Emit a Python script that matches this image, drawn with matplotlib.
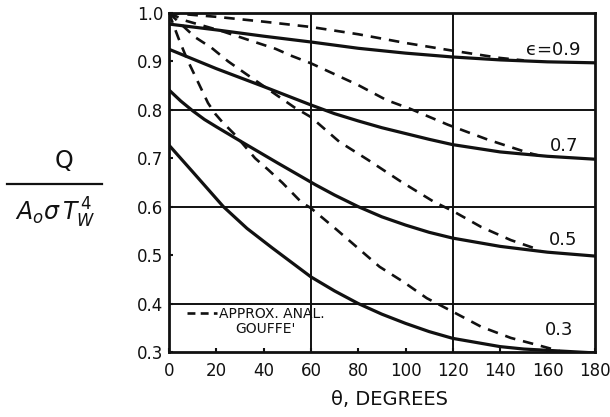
import numpy as np
import matplotlib
matplotlib.use("Agg")
import matplotlib.pyplot as plt
from matplotlib.lines import Line2D

# ---------------------------------------------------------------
# Data (theta in degrees, Q / (A0 sigma Tw^4))
# ---------------------------------------------------------------
# exact (solid) curves
th_s09 = [0, 20, 40, 60, 80, 100, 120, 140, 160, 180]
q_s09 = [0.977, 0.965, 0.952, 0.940, 0.927, 0.917, 0.909, 0.903, 0.899, 0.897]

th_s07 = [0, 20, 40, 60, 70, 80, 90, 100, 110, 120, 140, 160, 180]
q_s07 = [0.925, 0.885, 0.848, 0.810, 0.792, 0.777, 0.763, 0.751, 0.739, 0.728, 0.713, 0.704, 0.698]

th_s05 = [0, 5, 10, 15, 20, 31, 46, 62, 70, 80, 90, 100, 110, 120, 140, 160, 180]
q_s05 = [0.841, 0.818, 0.798, 0.780, 0.765, 0.733, 0.690, 0.645, 0.624, 0.600, 0.579, 0.562, 0.547, 0.535,
         0.518, 0.506, 0.498]

th_s03 = [0, 10, 23, 33, 43.6, 60, 70, 80, 90, 100, 110, 120, 140, 150, 180]
q_s03 = [0.727, 0.672, 0.600, 0.555, 0.515, 0.455, 0.426, 0.400, 0.378, 0.359, 0.342, 0.328, 0.311, 0.306, 0.298]

# approximate analytical (dashed) curves, Gouffe
th_d09 = [0, 20, 40, 60, 80, 100, 120, 140, 150]
q_d09 = [1.0, 0.992, 0.982, 0.971, 0.956, 0.938, 0.922, 0.907, 0.902]

th_d07 = [0, 7, 22, 35, 45, 52, 60, 80, 92, 102, 118, 135, 152, 156]
q_d07 = [1.0, 0.984, 0.963, 0.942, 0.926, 0.911, 0.896, 0.851, 0.820, 0.802, 0.769, 0.738, 0.711, 0.706]

th_d05 = [0, 11, 18, 25, 32, 53, 60, 72, 84, 98, 112, 120, 132, 144.5, 157]
q_d05 = [1.0, 0.950, 0.928, 0.900, 0.876, 0.805, 0.785, 0.734, 0.697, 0.652, 0.610, 0.591, 0.558, 0.531, 0.510]

th_d03 = [0, 4, 7.6, 12.3, 16.5, 19.5, 22.5, 28, 36.4, 42, 48, 56, 60, 71, 89, 99, 109, 120, 132, 144.5, 156, 165]
q_d03 = [1.0, 0.948, 0.905, 0.857, 0.814, 0.792, 0.775, 0.748, 0.700, 0.676, 0.649, 0.609, 0.597,
         0.552, 0.476, 0.445, 0.411, 0.383, 0.352, 0.329, 0.314, 0.302]

eps_labels = ["\u03f5=0.9", "0.7", "0.5", "0.3"]
label_th = [162.5, 167, 166.5, 165]
label_q = [0.924, 0.725, 0.531, 0.345]

x_ticks = np.arange(0, 181, 20)
y_ticks = [0.3, 0.4, 0.5, 0.6, 0.7, 0.8, 0.9, 1.0]

# ---------------------------------------------------------------
# Plot
# ---------------------------------------------------------------
plt.rcParams['font.family'] = ['DejaVu Sans']

fig = plt.figure(figsize=(6.1, 4.17), dpi=100)
ax = fig.add_axes([0.277, 0.156, 0.698, 0.813])

ink = "#111111"

# grid lines (only the heavy ones drawn on the original)
for gx in [60, 120]:
    ax.axvline(gx, color=ink, lw=1.4, zorder=1)
for gy in [0.4, 0.6, 0.8]:
    ax.axhline(gy, color=ink, lw=1.4, zorder=1)

solids = [(th_s09, q_s09), (th_s07, q_s07), (th_s05, q_s05), (th_s03, q_s03)]
dashes = [(th_d09, q_d09), (th_d07, q_d07), (th_d05, q_d05), (th_d03, q_d03)]

for th, q in solids:
    ax.plot(th, q, color=ink, lw=2.3, solid_joinstyle="round", zorder=3)
for th, q in dashes:
    ax.plot(th, q, color=ink, lw=1.9, dashes=(4, 3), zorder=3)

for lab, tx, ty in zip(eps_labels, label_th, label_q):
    ax.text(tx, ty, lab, fontsize=13, ha="center", va="center", color=ink)

# legend entry written into the plot
ax.add_line(Line2D([0.042, 0.112], [0.115, 0.115], transform=ax.transAxes,
                   color=ink, lw=1.9, dashes=(3, 2)))
ax.text(21, 0.379, "APPROX. ANAL.", fontsize=10, ha="left", va="center", color=ink)
ax.text(28, 0.347, "GOUFFE'", fontsize=10, ha="left", va="center", color=ink)

ax.set_xlim(0, 180)
ax.set_ylim(0.3, 1.0)
ax.set_xticks(x_ticks)
ax.set_yticks(y_ticks)
ax.set_yticklabels(["%.1f" % v for v in y_ticks])
ax.tick_params(direction="in", length=3, width=1.5, labelsize=12, colors=ink)
ax.tick_params(axis="x", pad=7)
ax.tick_params(axis="y", pad=4)
for s in ax.spines.values():
    s.set_linewidth(2)
    s.set_color(ink)

# axis titles
fig.text(0.639, 0.041, "\u03b8, DEGREES", fontsize=14, ha="center", va="center", color=ink)
fig.text(0.105, 0.615, "Q", fontsize=17, ha="center", va="center", color=ink)
fig.add_artist(Line2D([0.012, 0.167], [0.558, 0.558], transform=fig.transFigure,
                      color=ink, lw=1.6))
fig.text(0.09, 0.49, r"$A_o\sigma\,T_W^{\,4}$", fontsize=17, ha="center", va="center", color=ink)

fig.savefig("out.png", dpi=100)
